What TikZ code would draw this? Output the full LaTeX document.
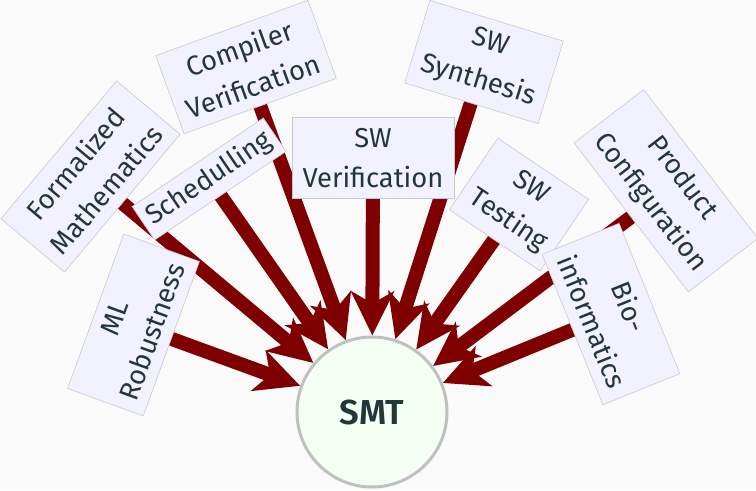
\documentclass[tikz,border=0pt]{standalone}
\usepackage{fontspec}
\setmainfont{Fira Sans}[BoldFont=* SemiBold]
\usepackage{tikz}
\usetikzlibrary{arrows.meta, backgrounds}
\definecolor{paper}{HTML}{FAFAFA}
\definecolor{darkteal}{HTML}{23373B}
\definecolor{boxfill}{HTML}{F1F1FF}
\definecolor{boxline}{HTML}{C8C8C8}
\definecolor{hubfill}{HTML}{F3FFF3}
\definecolor{hubline}{HTML}{C0C0C0}
\definecolor{maroon}{HTML}{7F0000}

\begin{document}
\begin{tikzpicture}[x=0.75pt, y=-0.75pt,
  area/.style={draw=boxline, fill=boxfill, text=darkteal, align=center, inner xsep=8pt, inner ysep=8pt, font=\fontsize{20.5}{30}\selectfont},
  hub/.style={circle, draw=hubline, line width=2.25pt, fill=hubfill, minimum size=112.5pt, text=darkteal, font=\fontsize{26}{30}\selectfont\bfseries},
  feed/.style={maroon, line width=10.5pt, -{Stealth[length=33pt, width=32pt, inset=9pt]}},
]
  \useasboundingbox (0,0) rectangle (756,490);

  \node[hub] (smt) at (372,412) {SMT};

  \node[area, rotate=70] (ml) at (133.5,325) {ML\\Robustness};
  \node[area, rotate=50] (fm) at (90.5,176.5) {Formalized\\Mathematics};
  \node[area, rotate=34, inner sep=5pt] (sc) at (209,179) {Schedulling};
  \node[area, rotate=20] (cv) at (246,67) {Compiler\\Verification};
  \node[area] (swv) at (373,158) {SW\\Verification};
  \node[area, rotate=-17] (sws) at (484,62) {SW\\Synthesis};
  \node[area, rotate=-34] (swt) at (519,204.5) {SW\\Testing};
  \node[area, rotate=-52.5] (pc) at (666,190.7) {Product\\Configuration};
  \node[area, rotate=-68] (bi) at (611,314) {Bio-\\informatics};

  \begin{scope}[on background layer]
    \fill[paper] (0,0) rectangle (756,490);
    \foreach \n in {ml,fm,sc,cv,swv,sws,swt,pc,bi}
      \draw[feed] (\n.center) -- (smt);
  \end{scope}

\end{tikzpicture}
\end{document}
